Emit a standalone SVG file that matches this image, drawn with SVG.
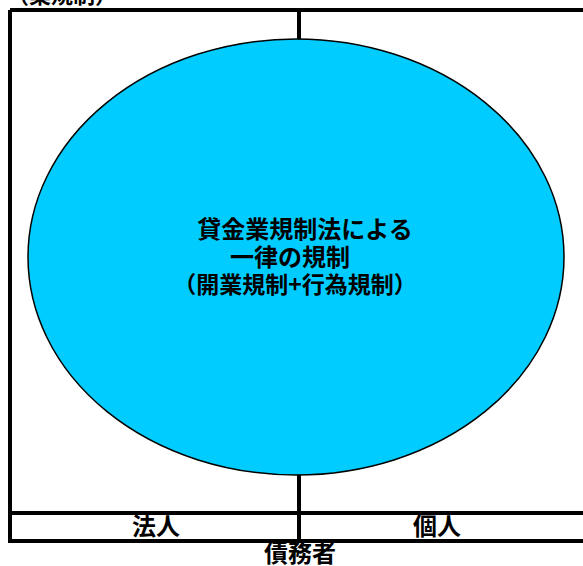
<svg xmlns="http://www.w3.org/2000/svg" width="583" height="566" viewBox="0 0 583 566">
<style>
.t{font-family:"Noto Sans CJK JP","Liberation Sans",sans-serif;font-weight:bold;fill:#000;text-anchor:middle;font-size:24px}
.ln{stroke:#000;stroke-width:4;fill:none}
</style>
<rect width="583" height="566" fill="#fff"/>
<text class="t" x="62" y="3" style="font-size:22px">（業規制）</text>
<g id="frame">
<path class="ln" d="M10,10 H590 M10,10 V541 H590 M10,513 H590 M299,10 V541"/>
</g>
<g id="ellipse">
<ellipse cx="296" cy="257" rx="268" ry="218" fill="#00CCFF" stroke="#000" stroke-width="1.5"/>
<text class="t" x="305" y="238">貸金業規制法による</text>
<text class="t" x="290" y="266">一律の規制</text>
<text class="t" x="295" y="293" style="font-size:23px">（開業規制+行為規制）</text>
</g>
<g id="houjin"><text class="t" x="156" y="535">法人</text></g>
<g id="kojin"><text class="t" x="437" y="535">個人</text></g>
<g id="saimusha"><text class="t" x="300" y="562">債務者</text></g>
</svg>
